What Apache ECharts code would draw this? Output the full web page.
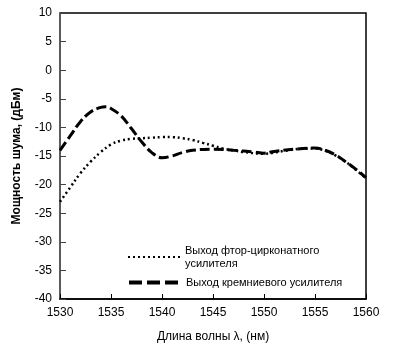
<!DOCTYPE html>
<html>
<head>
<meta charset="utf-8">
<script src="https://cdn.jsdelivr.net/npm/echarts@6/dist/echarts.min.js"></script>
<style>
html,body{margin:0;padding:0;background:#fff;}
#c{width:395px;height:350px;}
</style>
</head>
<body>
<div id="c"></div>
<script>
var xTicks = [1530, 1535, 1540, 1545, 1550, 1555, 1560];
var yTicks = [-40, -35, -30, -25, -20, -15, -10, -5, 0, 5, 10];

var wavelength = [1530, 1531, 1532, 1533, 1534, 1534.5, 1535, 1536, 1537, 1538, 1539, 1540, 1541, 1542, 1543, 1545, 1547, 1549, 1550, 1551, 1553, 1555, 1556, 1557, 1558, 1559, 1560];
var siliconNoise = [-14, -11.5, -9, -7.3, -6.5, -6.4, -6.7, -8, -10.2, -12.5, -14.4, -15.3, -15, -14.4, -14, -13.8, -14, -14.3, -14.5, -14.2, -13.8, -13.6, -14, -14.8, -16, -17.3, -18.8];

var wavelength2 = [1530, 1531, 1532, 1533, 1534, 1535, 1536, 1537, 1538, 1539, 1540, 1541, 1542, 1543, 1544, 1545, 1546, 1547, 1548, 1550, 1552, 1554, 1555, 1556, 1557, 1558, 1559, 1560];
var fluoroNoise = [-23, -20.5, -18, -16, -14.3, -13, -12.3, -12, -11.9, -11.8, -11.7, -11.7, -11.9, -12.2, -12.7, -13.2, -13.7, -14, -14.3, -14.6, -14.1, -13.7, -13.7, -14.1, -14.9, -16, -17.4, -18.9];

var nameFluoro = 'Выход фтор-цирконатного\nусилителя';
var nameSilicon = 'Выход кремниевого усилителя';

function pairs(xs, ys) { return xs.map(function (x, i) { return [x, ys[i]]; }); }

var chart = echarts.init(document.getElementById('c'), null, {renderer: 'canvas'});
var font = 'Liberation Sans, Arial, sans-serif';
var legendCommon = {
  orient: 'vertical', left: 122, itemWidth: 52, itemHeight: 10,
  itemStyle: {opacity: 0},
  textStyle: {fontFamily: font, fontSize: 11, color: '#000', lineHeight: 13}
};
chart.setOption({
  animation: false,
  backgroundColor: '#fff',
  grid: {left: 60, right: 29, top: 13, bottom: 51, show: true, borderColor: '#000', borderWidth: 1.5, backgroundColor: 'transparent'},
  xAxis: {
    type: 'value', min: xTicks[0], max: xTicks[xTicks.length - 1], interval: 5,
    name: 'Длина волны λ, (нм)', nameLocation: 'middle', nameGap: 32,
    nameTextStyle: {fontFamily: font, fontSize: 12, color: '#000'},
    axisLine: {show: true, onZero: false, lineStyle: {color: '#000', width: 1.5}},
    axisTick: {show: true, inside: true, length: 5, lineStyle: {color: '#000'}},
    axisLabel: {fontFamily: font, fontSize: 12, color: '#000', margin: 8, formatter: function (v) { return String(v); }},
    splitLine: {show: false}
  },
  yAxis: {
    type: 'value', min: yTicks[0], max: yTicks[yTicks.length - 1], interval: 5,
    name: 'Мощность шума, (дБм)', nameLocation: 'middle', nameGap: 37, nameRotate: 90,
    nameTextStyle: {fontFamily: font, fontSize: 12, color: '#000', fontWeight: 'bold'},
    axisLine: {show: true, onZero: false, lineStyle: {color: '#666', width: 1.5}},
    axisTick: {show: true, inside: true, length: 6, lineStyle: {color: '#444'}},
    axisLabel: {fontFamily: font, fontSize: 12, color: '#000', margin: 8, formatter: function (v) { return String(v); }},
    splitLine: {show: false}
  },
  legend: [
    Object.assign({data: [nameFluoro], top: 239}, legendCommon),
    Object.assign({data: [nameSilicon], top: 271, lineStyle: {width: 4, type: [13, 5]}}, legendCommon)
  ],
  series: [
    {
      name: nameFluoro, type: 'line', smooth: 0.4, showSymbol: false, symbol: 'none',
      data: pairs(wavelength2, fluoroNoise),
      lineStyle: {color: '#000', width: 2.5, type: [2, 3]},
      itemStyle: {color: '#000'}
    },
    {
      name: nameSilicon, type: 'line', smooth: 0.4, showSymbol: false, symbol: 'none',
      data: pairs(wavelength, siliconNoise),
      lineStyle: {color: '#000', width: 3, type: [10, 4]},
      itemStyle: {color: '#000'}
    }
  ]
});
</script>
</body>
</html>
